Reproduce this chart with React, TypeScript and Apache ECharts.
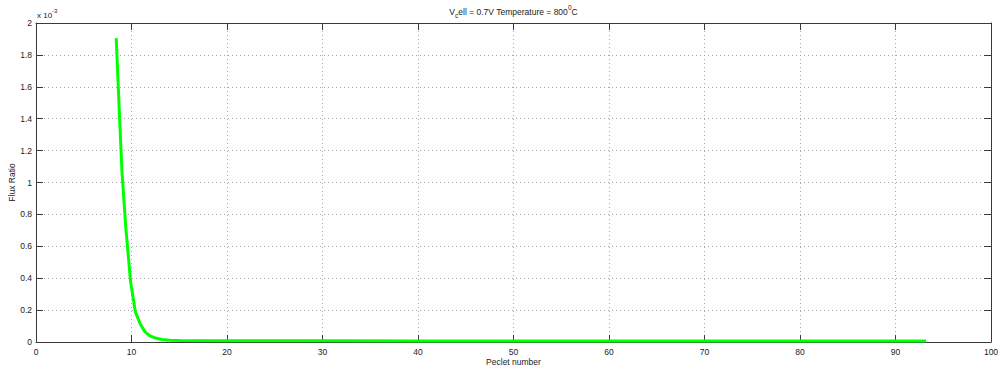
import React, { useEffect, useRef } from "react";
import * as echarts from "echarts";

// Peclet number samples and the matching flux ratio
const pecletNumber = [8.4, 8.7, 9.0, 9.4, 9.9, 10.4, 10.9, 11.4, 11.9, 12.5, 13.2, 14.0, 15.0, 20, 30, 40, 50, 60, 70, 80, 90, 93.2];
const fluxRatio = [
  1.905e-3, 1.48e-3, 1.07e-3, 0.72e-3, 0.38e-3, 0.19e-3, 0.115e-3, 0.065e-3, 0.04e-3, 0.025e-3, 0.016e-3,
  0.011e-3, 0.009e-3, 0.008e-3, 0.0075e-3, 0.007e-3, 0.007e-3, 0.0065e-3, 0.0065e-3, 0.006e-3, 0.006e-3, 0.006e-3,
];

const FONT = "'Liberation Sans', Arial, sans-serif";
const FS = 8.5;
const AXIS = "#3a3a3a";
const GRID = "#a8a8a8";
const INK = "#222";

export default function App() {
  const ref = useRef<HTMLDivElement>(null);

  useEffect(() => {
    if (!ref.current) return;
    const chart = echarts.init(ref.current, null, { renderer: "svg" });

    const tickStyle = { show: true, inside: true, length: 7, lineStyle: { color: AXIS } };
    const split = { show: true, lineStyle: { color: GRID, type: [1, 3] as any, width: 1 } };
    const left = 36;
    const right = 7;
    const plotCenterX = left + (998 - left - right) / 2;

    chart.setOption({
      animation: false,
      backgroundColor: "#ffffff",
      grid: { left, right, top: 23, bottom: 26, containLabel: false, outerBoundsMode: "none" },
      xAxis: [
        {
          type: "value",
          min: 0,
          max: 100,
          interval: 10,
          position: "bottom",
          name: "Peclet number",
          nameLocation: "middle",
          nameGap: 15,
          nameMoveOverlap: false,
          nameTextStyle: { fontFamily: FONT, fontSize: FS, color: INK, verticalAlign: "top" },
          axisLine: { show: true, onZero: false, lineStyle: { color: AXIS } },
          axisTick: tickStyle,
          axisLabel: { fontFamily: FONT, fontSize: FS, color: INK, margin: 5 },
          splitLine: split,
        },
        {
          type: "value",
          min: 0,
          max: 100,
          interval: 10,
          position: "top",
          axisLine: { show: true, onZero: false, lineStyle: { color: AXIS } },
          axisTick: tickStyle,
          axisLabel: { show: false },
          splitLine: { show: false },
        },
      ],
      yAxis: [
        {
          type: "value",
          min: 0,
          max: 0.002,
          interval: 0.0002,
          position: "left",
          name: "Flux Ratio",
          nameLocation: "middle",
          nameGap: 20,
          nameMoveOverlap: false,
          nameRotate: 90,
          nameTextStyle: { fontFamily: FONT, fontSize: FS, color: INK },
          axisLine: { show: true, onZero: false, lineStyle: { color: AXIS } },
          axisTick: tickStyle,
          axisLabel: {
            fontFamily: FONT,
            fontSize: FS,
            color: INK,
            margin: 4,
            formatter: (v: number) => String(+(v * 1000).toFixed(1)),
          },
          splitLine: split,
        },
        {
          type: "value",
          min: 0,
          max: 0.002,
          interval: 0.0002,
          position: "right",
          axisLine: { show: true, onZero: false, lineStyle: { color: AXIS } },
          axisTick: tickStyle,
          axisLabel: { show: false },
          splitLine: { show: false },
        },
      ],
      graphic: [
        {
          type: "text",
          x: plotCenterX,
          y: 2,
          style: {
            text: "{n|V}{sub|c}{n|ell = 0.7V Temperature = 800}{sup|0}{n|C}",
            align: "center",
            textAlign: "center",
            rich: {
              n: { fontFamily: FONT, fontSize: FS, fill: INK, verticalAlign: "bottom", lineHeight: 14 },
              sub: { fontFamily: FONT, fontSize: 6.5, fill: INK, verticalAlign: "bottom", lineHeight: 10, padding: [0, 0, -3, 0] },
              sup: { fontFamily: FONT, fontSize: 6.5, fill: INK, verticalAlign: "top", lineHeight: 8, padding: [2, 0, 0, 0] },
            },
          },
        },
        {
          type: "text",
          left: 37,
          top: 8,
          style: {
            text: "{n|x 10}{sup|-3}",
            rich: {
              n: { fontFamily: FONT, fontSize: 8, fill: INK, verticalAlign: "bottom", lineHeight: 11 },
              sup: { fontFamily: FONT, fontSize: 6, fill: INK, verticalAlign: "top", lineHeight: 7 },
            },
          },
        },
      ],
      series: [
        {
          type: "line",
          xAxisIndex: 0,
          yAxisIndex: 0,
          data: pecletNumber.map((p, i) => [p, fluxRatio[i]]),
          showSymbol: false,
          smooth: false,
          lineStyle: { color: "#00ff00", width: 3 },
          itemStyle: { color: "#00ff00" },
        },
      ],
    });

    return () => chart.dispose();
  }, []);

  return <div ref={ref} style={{ position: "fixed", left: 0, top: 0, width: 998, height: 368 }} />;
}
